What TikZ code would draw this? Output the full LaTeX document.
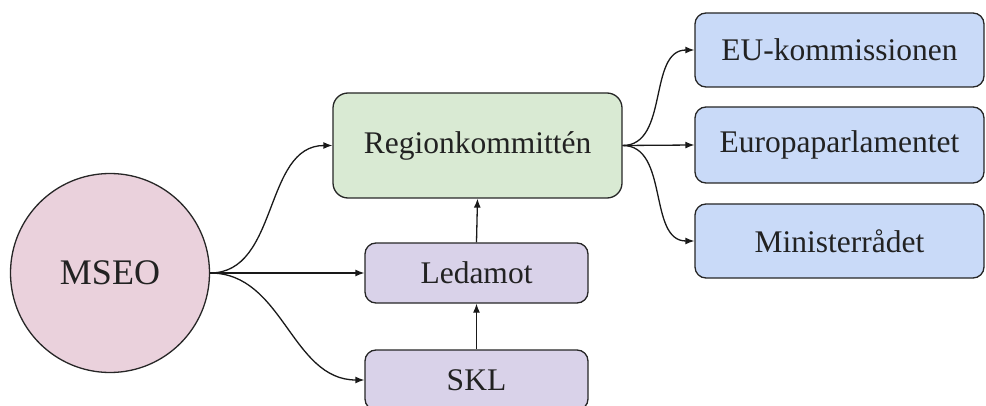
\documentclass[tikz,border=0pt]{standalone}
\usepackage{fontspec}
\setmainfont{Liberation Serif}
\usetikzlibrary{arrows.meta,positioning}
\definecolor{pinkfill}{HTML}{EAD1DC}
\definecolor{greenfill}{HTML}{D9EAD3}
\definecolor{purplefill}{HTML}{D9D2E9}
\definecolor{bluefill}{HTML}{C9DAF8}
\definecolor{txt}{HTML}{222222}
\tikzset{
  box/.style={draw=black!85, line width=1.3pt, rounded corners=11pt, inner sep=0pt,
    text=txt, font=\fontsize{31.5}{36}\selectfont},
  conn/.style={draw=black!90, line width=1.3pt, -{Latex[length=9pt,width=7pt]}},
}
\begin{document}
\begin{tikzpicture}[x=1pt,y=1pt]
\useasboundingbox (0,0) rectangle (986,405);
\clip (0,0) rectangle (986,405);
\node[draw=black!85, line width=1.3pt, circle, fill=pinkfill, minimum size=199pt, inner sep=0pt,
  text=txt, font=\fontsize{36}{40}\selectfont] (mseo) at (110,132) {MSEO};
\node[box, fill=greenfill, minimum width=289pt, minimum height=105pt, rounded corners=15pt] (reg) at (477.5,259.5) {Regionkommittén};
\node[box, fill=purplefill, minimum width=223pt, minimum height=60pt] (led) at (476.5,132) {Ledamot};
\node[box, fill=purplefill, minimum width=223pt, minimum height=60pt] (skl) at (476.5,25) {SKL};
\node[box, fill=bluefill, minimum width=289pt, minimum height=74pt] (eu) at (839.5,355) {EU-kommissionen};
\node[box, fill=bluefill, minimum width=289pt, minimum height=76pt] (ep) at (839.5,260) {Europaparlamentet};
\node[box, fill=bluefill, minimum width=289pt, minimum height=74pt] (min) at (839.5,164) {Ministerrådet};
\draw[conn] (mseo.east) to[out=0,in=180] (reg.west);
\draw[conn] (mseo.east) -- (led.west);
\draw[conn] (mseo.east) to[out=0,in=180] (skl.west);
\draw[conn] (skl.north) -- (led.south);
\draw[conn] (led.north) -- (reg.south);
\draw[conn] (reg.east) to[out=0,in=180] (eu.west);
\draw[conn] (reg.east) -- (ep.west);
\draw[conn] (reg.east) to[out=0,in=180] (min.west);
\end{tikzpicture}
\end{document}
